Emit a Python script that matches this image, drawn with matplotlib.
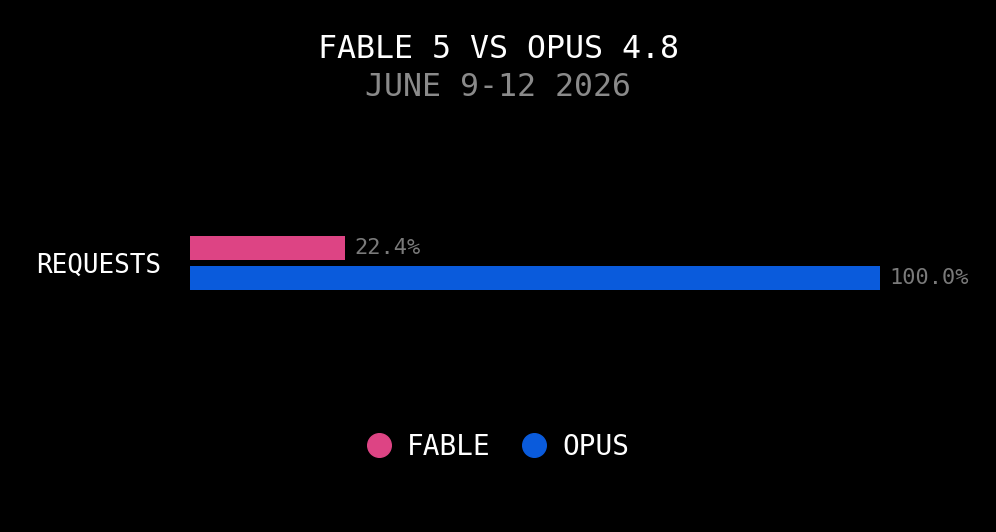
import matplotlib.pyplot as plt
from matplotlib.lines import Line2D

TITLE = "FABLE 5 VS OPUS 4.8"
SUBTITLE = "JUNE 9-12 2026"
CATEGORY = "REQUESTS"
SERIES = ["FABLE", "OPUS"]
VALUES = [22.4, 100.0]
COLORS = ["#dd4484", "#0a5bdc"]

FONT = "DejaVu Sans Mono"

fig = plt.figure(figsize=(9.96, 5.32), dpi=100, facecolor="black")

# Axes placed in pixel terms so the 100% bar runs from x=190 to x=880.
ax = fig.add_axes([190 / 996, (532 - 323) / 532, 690 / 996, 120 / 532])
ax.set_facecolor("black")
positions = range(len(VALUES))
bars = ax.barh(positions, VALUES, height=0.8, color=COLORS)
ax.set_xlim(0, 100)
ax.set_ylim(2.5, -1.5)

for bar, val in zip(bars, VALUES):
    ax.annotate(f"{val:.1f}%", (bar.get_width(), bar.get_y() + bar.get_height() / 2),
                xytext=(7, 0), textcoords="offset points", va="center", ha="left",
                color="#7a7a7a", fontsize=15.8, family=FONT, annotation_clip=False)

ax.set_yticks([0.5])
ax.set_yticklabels([CATEGORY], color="white", fontsize=18.7, family=FONT)
ax.tick_params(axis="y", length=0, pad=21)
ax.set_xticks([])
for s in ax.spines.values():
    s.set_visible(False)

# Title block.
fig.text(0.5, 1 - 50 / 532, TITLE, ha="center", va="center", color="white",
         fontsize=22.8, family=FONT)
fig.text(0.5, 1 - 88 / 532, SUBTITLE, ha="center", va="center", color="#8a8a8a",
         fontsize=22.8, family=FONT)

handles = [Line2D([], [], marker="o", linestyle="none", markersize=17,
                  markerfacecolor=c, markeredgecolor=c) for c in COLORS]
leg = fig.legend(handles, SERIES, loc="center", bbox_to_anchor=(0.495, 1 - 447 / 532),
                 ncol=2, frameon=False, handletextpad=0.23, columnspacing=0.75,
                 handlelength=1.6, prop={"family": FONT, "size": 20})
for t in leg.get_texts():
    t.set_color("white")

fig.savefig("out.png", dpi=100, facecolor="black")
